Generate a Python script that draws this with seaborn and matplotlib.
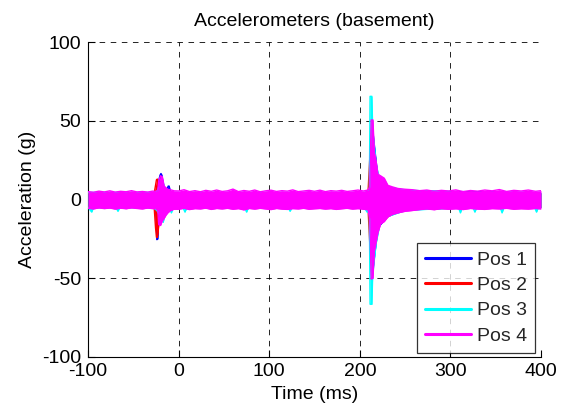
import matplotlib
matplotlib.use("Agg")
import matplotlib.pyplot as plt
from matplotlib.lines import Line2D
import numpy as np
import pandas as pd
import seaborn as sns

# Accelerometer records: envelope (upper / lower peaks) of each channel, in g, vs time in ms
series_names = ["Pos 1", "Pos 2", "Pos 3", "Pos 4"]
series_colors = ["#0000ff", "#ff0000", "#00ffff", "#ff00ff"]

pos1_t = [-100, -27, -25, -24, -23, -22, -20.5, -19.5, -18.5, -16.5, -13, -11.5, -10.5, -9, -5,
          150, 209, 211.5, 213, 215, 220, 230, 250, 400]
pos1_hi = [4.3, 4.3, 4.5, 5.0, 8.0, 12.0, 15.5, 16.5, 15.5, 8.0, 6.5, 8.5, 8.5, 5.0, 4.3,
           4.3, 4.3, 8.0, 45.0, 40.0, 14.0, 8.0, 5.5, 4.3]
pos1_lo = [-5.0, -5.0, -8.0, -25.5, -25.0, -14.0, -14.0, -13.0, -12.0, -10.0, -8.0, -6.5, -6.0, -5.5, -5.0,
           -5.0, -5.0, -10.0, -46.0, -42.0, -18.0, -11.0, -6.0, -5.0]

pos2_t = [-100, -27, -25.5, -24.5, -23.5, -22.5, -21.5, -20, -5, 209, 212, 214, 218, 240, 400]
pos2_hi = [4.0, 4.0, 9.0, 12.5, 13.0, 11.0, 7.0, 5.0, 4.0, 4.0, 38.0, 38.0, 14.0, 5.0, 4.0]
pos2_lo = [-5.0, -5.0, -18.0, -24.0, -24.0, -20.0, -12.0, -7.0, -5.0, -5.0, -40.0, -40.0, -18.0, -6.0, -5.0]

pos3_t = [-100, -98, -96, -94, -69, -67, -65, -28, -24, -19, -17, -15, -10, -8, -6,
          0, 5, 7, 9, 73, 75, 77, 121, 123, 125,
          205, 208, 210.5, 211.3, 213.3, 214.2, 218, 222, 230, 250,
          309, 311, 313, 325, 327, 329, 355, 357, 359, 393, 395, 397, 400]
pos3_hi = [4.5, 4.5, 4.5, 4.5, 4.5, 4.5, 4.5, 4.5, 5.0, 12.0, 11.0, 6.0, 5.0, 5.0, 4.5,
           4.5, 4.5, 4.5, 4.5, 4.5, 4.5, 4.5, 4.5, 4.5, 4.5,
           4.5, 5.0, 6.0, 65.5, 65.5, 45.0, 22.0, 13.0, 8.0, 6.0,
           4.5, 4.5, 4.5, 4.5, 4.5, 4.5, 4.5, 4.5, 4.5, 4.5, 4.5, 4.5, 4.5]
pos3_lo = [-5.2, -6.5, -8.0, -5.2, -5.2, -7.5, -5.2, -5.2, -7.0, -12.0, -14.5, -9.0, -6.0, -8.5, -5.2,
           -5.2, -5.5, -8.0, -5.2, -5.2, -8.0, -5.2, -5.2, -7.5, -5.2,
           -5.2, -8.0, -8.0, -66.5, -66.5, -48.0, -28.0, -16.0, -11.0, -7.0,
           -5.2, -8.5, -5.2, -5.2, -8.0, -5.2, -5.2, -8.5, -5.2, -5.2, -8.0, -5.2, -5.2]

pos4_t = [-100, -94, -88, -82, -76, -70, -64, -58, -52, -46, -40, -34, -29,
          -25, -23, -22, -20, -18, -16, -14, -12, -9, -5,
          0, 6, 12, 18, 24, 30, 36, 42, 48, 54, 60, 66, 72, 78, 84, 90, 96, 102,
          108, 114, 120, 126, 132, 138, 144, 150, 156, 162, 168, 174, 180, 186,
          192, 198, 204, 209,
          211, 212.5, 214.5, 216, 218, 220, 223, 227, 231, 236, 242, 250,
          258, 266, 274, 282, 290, 298, 306, 314, 322, 330, 338, 346, 354, 362,
          370, 378, 386, 394, 400]
pos4_hi = [5.0, 4.6, 5.3, 4.8, 5.5, 4.7, 5.2, 4.9, 5.6, 4.8, 5.1, 4.7, 5.3,
           5.2, 6.0, 12.0, 15.0, 14.5, 8.5, 7.5, 6.5, 6.2, 5.5,
           5.4, 6.2, 5.0, 5.6, 4.9, 5.8, 5.2, 6.0, 5.1, 5.5, 6.6, 5.0, 5.7, 5.2, 6.0, 4.9, 5.5, 5.9,
           5.1, 5.6, 5.3, 6.1, 5.0, 5.4, 5.8, 5.2, 5.9, 5.0, 5.6, 5.3, 5.8, 5.1,
           5.5, 6.0, 5.4, 6.0,
           8.0, 50.5, 50.5, 30.0, 24.0, 16.0, 15.0, 13.5, 9.0, 8.0, 7.0, 6.5,
           6.2, 5.6, 6.0, 5.2, 5.8, 5.4, 6.1, 5.0, 5.7, 5.3, 6.0, 5.5, 6.3, 5.1,
           5.8, 5.4, 6.0, 5.2, 5.6]
pos4_lo = [-5.6, -6.0, -5.3, -5.8, -5.4, -6.1, -5.5, -5.9, -5.3, -5.7, -6.0, -5.4, -5.8,
           -5.8, -7.0, -16.0, -16.5, -13.5, -12.0, -10.0, -8.5, -7.0, -6.2,
           -6.2, -5.6, -6.4, -5.8, -6.0, -5.5, -6.3, -5.7, -6.0, -5.6, -6.2, -5.8, -6.6, -5.7, -6.1, -5.6, -6.0, -6.4,
           -5.7, -6.1, -6.3, -5.8, -6.0, -5.6, -6.2, -5.9, -5.7, -6.1, -5.8, -6.3, -5.9, -5.6,
           -6.1, -5.8, -6.2, -6.5,
           -12.0, -50.5, -50.0, -33.0, -27.0, -21.0, -15.5, -14.0, -11.0, -9.5, -8.5, -7.5,
           -7.0, -6.4, -6.0, -6.5, -5.8, -6.2, -5.9, -6.4, -5.7, -6.1, -6.3, -5.8, -6.0, -5.6,
           -6.2, -5.9, -6.1, -5.7, -6.0]

x_ticks = [-100, 0, 100, 200, 300, 400]
y_ticks = [-100, -50, 0, 50, 100]

envelopes = {
    "Pos 1": (pos1_t, pos1_hi, pos1_lo),
    "Pos 2": (pos2_t, pos2_hi, pos2_lo),
    "Pos 3": (pos3_t, pos3_hi, pos3_lo),
    "Pos 4": (pos4_t, pos4_hi, pos4_lo),
}

# long-form table: one row per envelope point
rows = []
for name in series_names:
    t, hi, lo = envelopes[name]
    for ti, h, l in zip(t, hi, lo):
        rows.append({"series": name, "edge": "upper", "time": ti, "accel": h})
        rows.append({"series": name, "edge": "lower", "time": ti, "accel": l})
df = pd.DataFrame(rows)

sns.set_theme(style="ticks")
plt.rcParams["font.family"] = ["Liberation Sans", "DejaVu Sans"]
plt.rcParams["lines.scale_dashes"] = False
plt.rcParams["axes.unicode_minus"] = False

FS = 14

fig = plt.figure(figsize=(5.68, 4.18), dpi=100)
ax = fig.add_axes([0.155, 0.146, 0.7975, 0.7535])

for z, (name, color) in enumerate(zip(series_names, series_colors)):
    sub = df[df["series"] == name]
    up = sub[sub["edge"] == "upper"]
    lo = sub[sub["edge"] == "lower"]
    ax.fill_between(up["time"].to_numpy(), up["accel"].to_numpy(), lo["accel"].to_numpy(),
                    color=color, linewidth=0, zorder=3 + z)
    sns.lineplot(data=sub, x="time", y="accel", units="edge", estimator=None,
                 color=color, linewidth=1.0, ax=ax, legend=False, zorder=3 + z)

ax.set_xlim(-100, 400)
ax.set_ylim(-100, 100)
ax.set_xticks(x_ticks)
ax.set_yticks(y_ticks)
ax.set_axisbelow(True)
ax.grid(True, color="black", linestyle=(0, (4, 4)), linewidth=0.6)

for side in ("top", "right"):
    ax.spines[side].set_visible(False)
for side in ("left", "bottom"):
    ax.spines[side].set_color("black")
    ax.spines[side].set_linewidth(0.8)
ax.tick_params(direction="in", length=5, width=0.8, colors="black",
               labelsize=FS, top=False, right=False)
ax.tick_params(axis="y", pad=5)
ax.tick_params(axis="x", pad=4.5)

ax.set_xlabel("Time (ms)", fontsize=FS, color="black", labelpad=4.5)
ax.set_ylabel("Acceleration (g)", fontsize=FS, color="black", labelpad=4)
ax.set_title("Accelerometers (basement)", fontsize=FS, color="black", pad=11.5)

handles = [Line2D([0], [0], color=c, linewidth=2.2) for c in series_colors]
leg = ax.legend(handles, series_names, loc="lower right", bbox_to_anchor=(0.987, 0.014),
                borderaxespad=0, fontsize=FS, frameon=True, fancybox=False,
                handlelength=2.4, handletextpad=0.3, labelspacing=0.4,
                borderpad=0.4)
leg.get_frame().set_edgecolor("black")
leg.get_frame().set_linewidth(0.9)
leg.set_zorder(20)

fig.savefig("out.png", dpi=100)
